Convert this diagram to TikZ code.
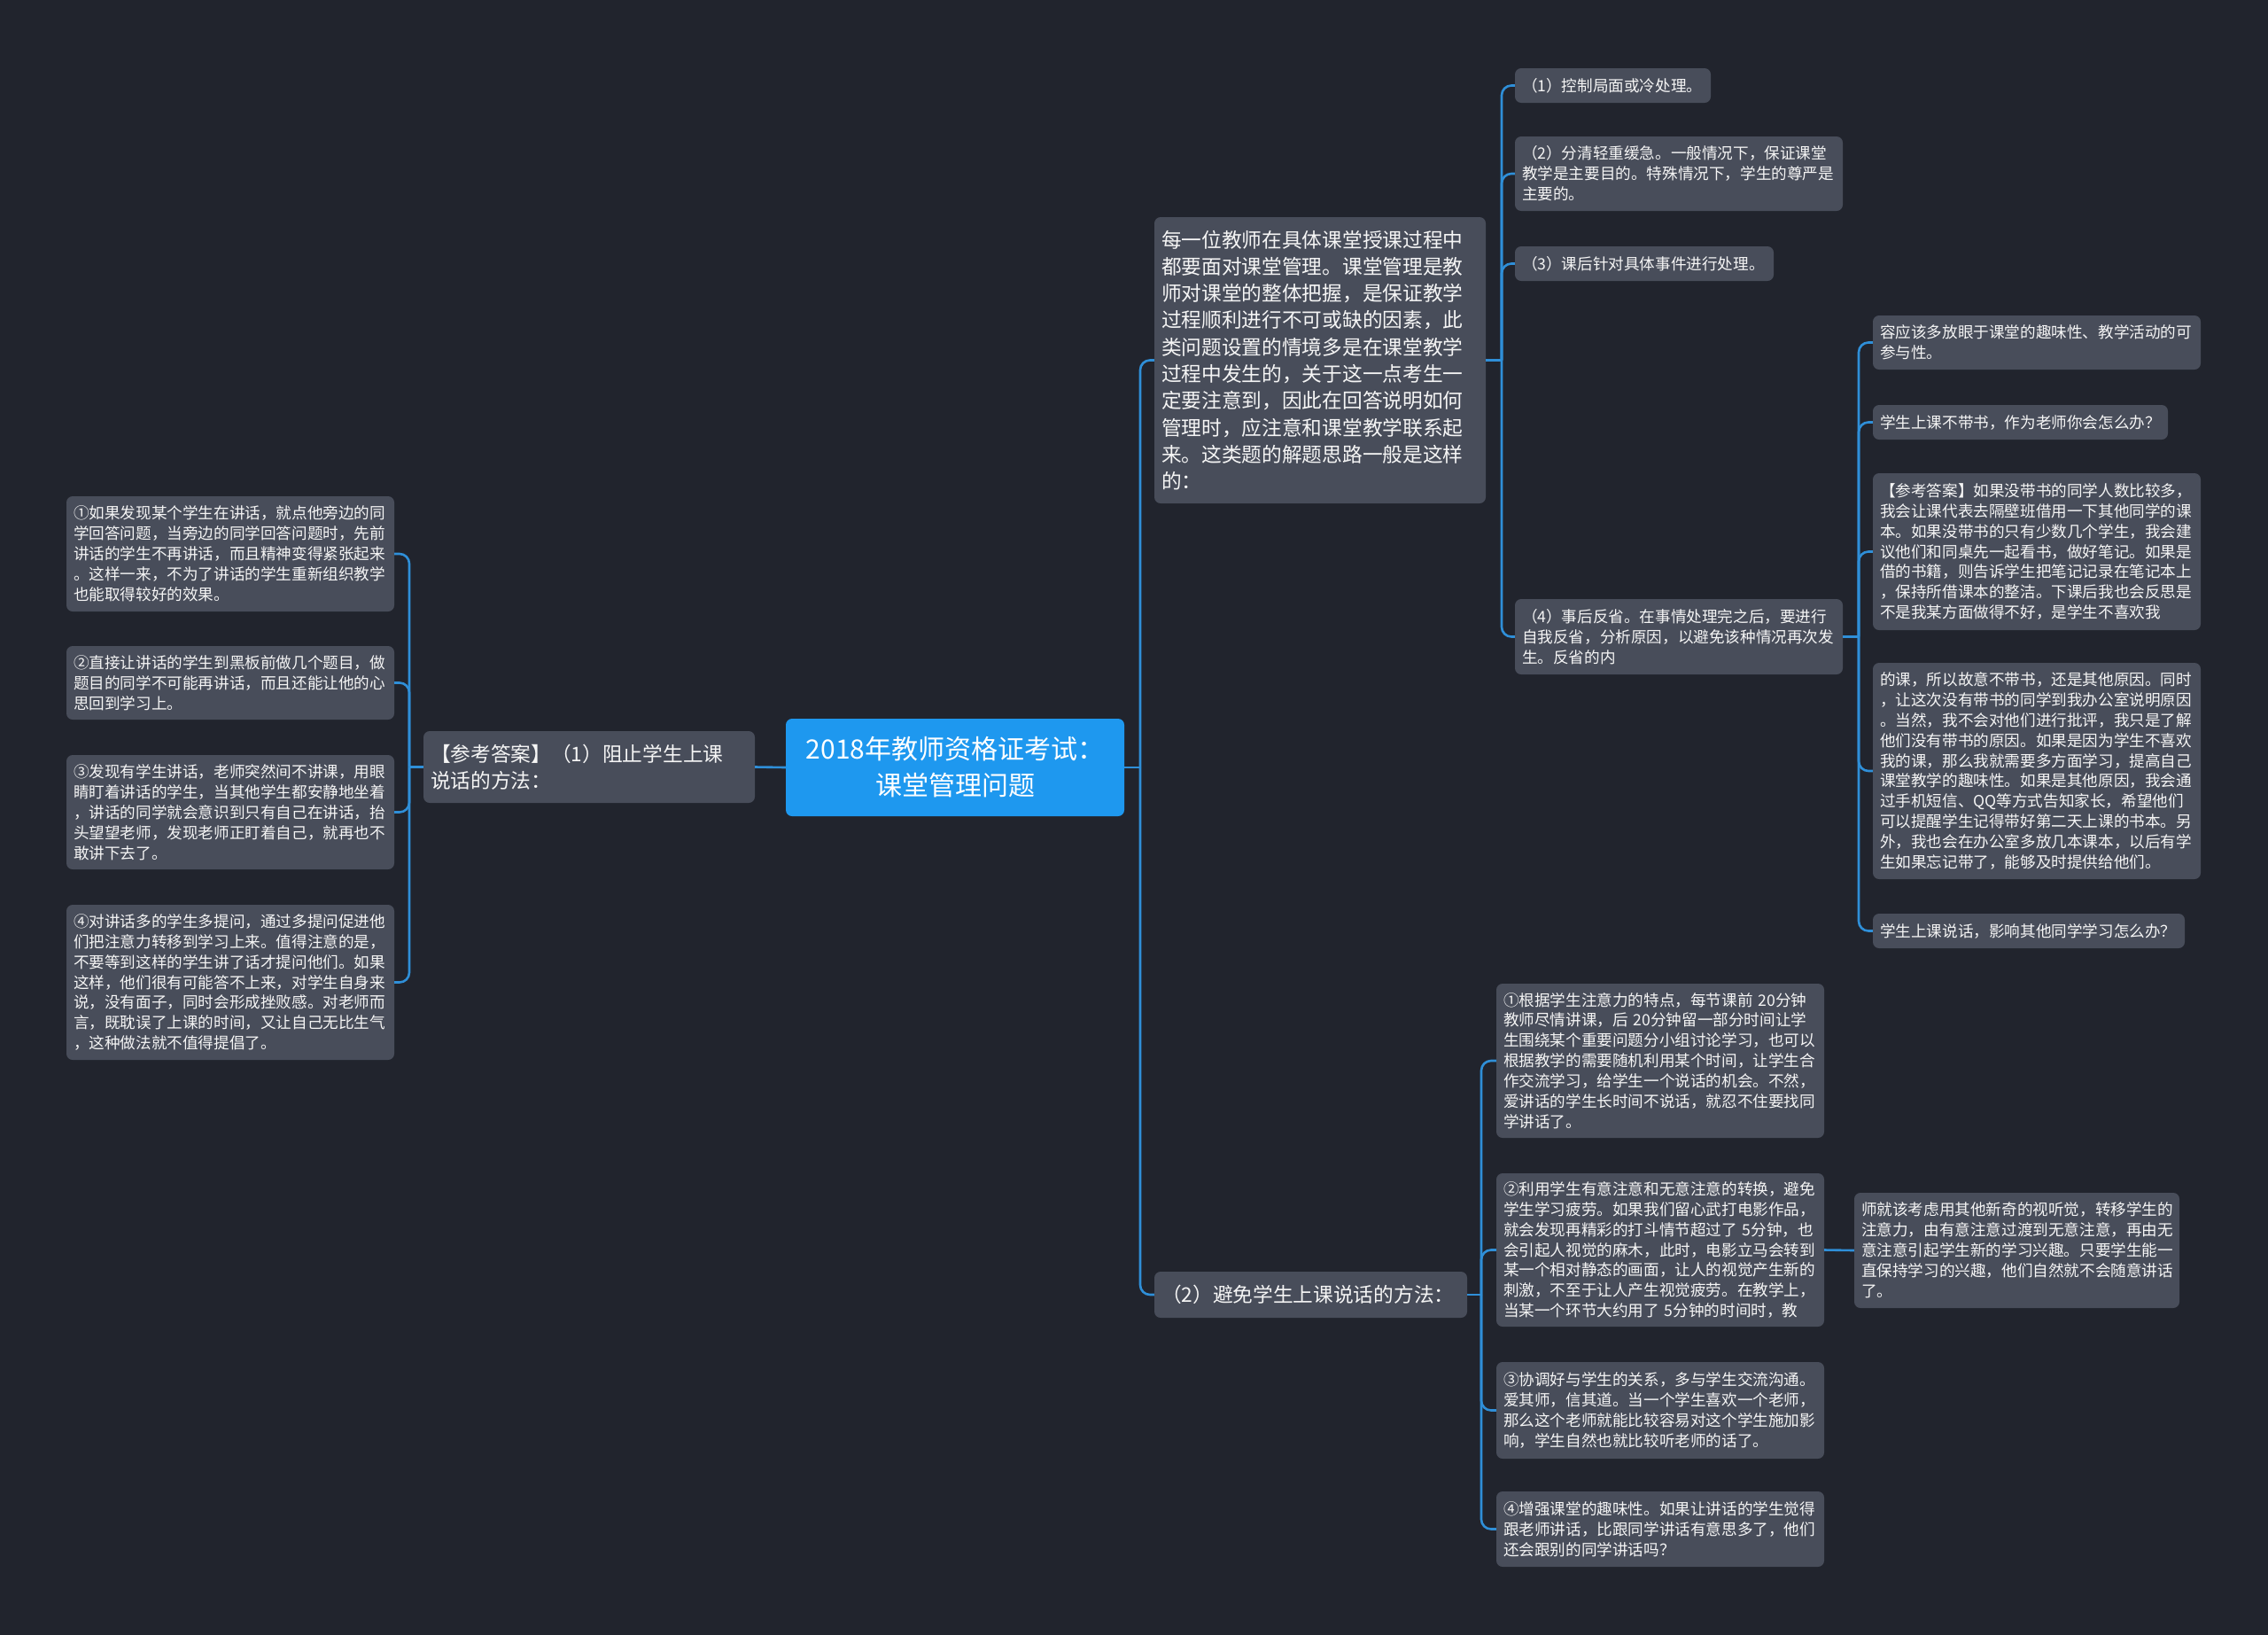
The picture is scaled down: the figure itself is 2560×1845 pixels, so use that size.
\documentclass[tikz,border=0pt]{standalone}
\usepackage{fontspec}
\setmainfont{Noto Sans CJK SC}
\definecolor{bgc}{HTML}{21242D}
\definecolor{nodefill}{HTML}{484D5A}
\definecolor{rootc}{HTML}{1E98EF}
\definecolor{connc}{HTML}{2F8FD8}
\definecolor{textc}{HTML}{F5F5F5}
\tikzset{
  leaf/.style={fill=nodefill, rounded corners=7pt, text=textc, align=left,
    font=\fontsize{17.6pt}{22.9pt}\selectfont, inner xsep=8pt, inner ysep=0pt},
  big/.style={leaf, font=\fontsize{22.7pt}{30.3pt}\selectfont},
  root/.style={fill=rootc, rounded corners=7pt, text=white, align=center,
    font=\fontsize{30pt}{41pt}\selectfont, inner xsep=8pt, inner ysep=0pt},
  conn/.style={draw=connc, line width=2.6pt, rounded corners=11pt}
}
\newcommand{\mmbox}[7]{%
  \pgfmathsetmacro{\mmw}{#4-#2}%
  \pgfmathsetmacro{\mmtw}{#4-#2-16}%
  \pgfmathsetmacro{\mmh}{#5-#3}%
  \pgfmathsetmacro{\mmx}{(#2+#4)/2}%
  \pgfmathsetmacro{\mmy}{(#3+#5)/2}%
  \node[#6, text width=\mmtw pt, minimum width=\mmw pt, minimum height=\mmh pt] (#1) at (\mmx,\mmy) {#7};}
\begin{document}
\begin{tikzpicture}[x=1pt,y=-1pt]
\fill[bgc] (0,0) rectangle (2560,1845);
\useasboundingbox (0,0) rectangle (2560,1845);

% root
\mmbox{root}{887}{811}{1269}{921}{root}{2018年教师资格证考试：\\课堂管理问题}

% left branch
\mmbox{A}{478}{825}{852}{906}{big}{【参考答案】（1）阻止学生上课\\说话的方法：}
\mmbox{L1}{75}{560}{445}{690}{leaf}{①如果发现某个学生在讲话，就点他旁边的同\\学回答问题，当旁边的同学回答问题时，先前\\讲话的学生不再讲话，而且精神变得紧张起来\\。这样一来，不为了讲话的学生重新组织教学\\也能取得较好的效果。}
\mmbox{L2}{75}{729}{445}{812}{leaf}{②直接让讲话的学生到黑板前做几个题目，做\\题目的同学不可能再讲话，而且还能让他的心\\思回到学习上。}
\mmbox{L3}{75}{852}{445}{981}{leaf}{③发现有学生讲话，老师突然间不讲课，用眼\\睛盯着讲话的学生，当其他学生都安静地坐着\\，讲话的同学就会意识到只有自己在讲话，抬\\头望望老师，发现老师正盯着自己，就再也不\\敢讲下去了。}
\mmbox{L4}{75}{1021}{445}{1196}{leaf}{④对讲话多的学生多提问，通过多提问促进他\\们把注意力转移到学习上来。值得注意的是，\\不要等到这样的学生讲了话才提问他们。如果\\这样，他们很有可能答不上来，对学生自身来\\说，没有面子，同时会形成挫败感。对老师而\\言，既耽误了上课的时间，又让自己无比生气\\，这种做法就不值得提倡了。}

% right upper branch
\mmbox{B}{1303}{245}{1677}{568}{big}{每一位教师在具体课堂授课过程中\\都要面对课堂管理。课堂管理是教\\师对课堂的整体把握，是保证教学\\过程顺利进行不可或缺的因素，此\\类问题设置的情境多是在课堂教学\\过程中发生的，关于这一点考生一\\定要注意到，因此在回答说明如何\\管理时，应注意和课堂教学联系起\\来。这类题的解题思路一般是这样\\的：}
\mmbox{R1}{1710}{77}{1931}{116}{leaf}{（1）控制局面或冷处理。}
\mmbox{R2}{1710}{154}{2080}{238}{leaf}{（2）分清轻重缓急。一般情况下，保证课堂\\教学是主要目的。特殊情况下，学生的尊严是\\主要的。}
\mmbox{R3}{1710}{278}{2002}{317}{leaf}{（3）课后针对具体事件进行处理。}
\mmbox{R4}{1710}{676}{2080}{761}{leaf}{（4）事后反省。在事情处理完之后，要进行\\自我反省，分析原因，以避免该种情况再次发\\生。反省的内}
\mmbox{S1}{2114}{356}{2484}{417}{leaf}{容应该多放眼于课堂的趣味性、教学活动的可\\参与性。}
\mmbox{S2}{2114}{457}{2447}{496}{leaf}{学生上课不带书，作为老师你会怎么办？}
\mmbox{S3}{2114}{534}{2484}{711}{leaf}{【参考答案】如果没带书的同学人数比较多，\\我会让课代表去隔壁班借用一下其他同学的课\\本。如果没带书的只有少数几个学生，我会建\\议他们和同桌先一起看书，做好笔记。如果是\\借的书籍，则告诉学生把笔记记录在笔记本上\\，保持所借课本的整洁。下课后我也会反思是\\不是我某方面做得不好，是学生不喜欢我}
\mmbox{S4}{2114}{748}{2484}{992}{leaf}{的课，所以故意不带书，还是其他原因。同时\\，让这次没有带书的同学到我办公室说明原因\\。当然，我不会对他们进行批评，我只是了解\\他们没有带书的原因。如果是因为学生不喜欢\\我的课，那么我就需要多方面学习，提高自己\\课堂教学的趣味性。如果是其他原因，我会通\\过手机短信、QQ等方式告知家长，希望他们\\可以提醒学生记得带好第二天上课的书本。另\\外，我也会在办公室多放几本课本，以后有学\\生如果忘记带了，能够及时提供给他们。}
\mmbox{S5}{2114}{1031}{2466}{1070}{leaf}{学生上课说话，影响其他同学学习怎么办？}

% right lower branch
\mmbox{C}{1303}{1435}{1656}{1487}{big}{（2）避免学生上课说话的方法：}
\mmbox{T1}{1689}{1110}{2059}{1284}{leaf}{①根据学生注意力的特点，每节课前 20分钟\\教师尽情讲课，后 20分钟留一部分时间让学\\生围绕某个重要问题分小组讨论学习，也可以\\根据教学的需要随机利用某个时间，让学生合\\作交流学习，给学生一个说话的机会。不然，\\爱讲话的学生长时间不说话，就忍不住要找同\\学讲话了。}
\mmbox{T2}{1689}{1324}{2059}{1497}{leaf}{②利用学生有意注意和无意注意的转换，避免\\学生学习疲劳。如果我们留心武打电影作品，\\就会发现再精彩的打斗情节超过了 5分钟，也\\会引起人视觉的麻木，此时，电影立马会转到\\某一个相对静态的画面，让人的视觉产生新的\\刺激，不至于让人产生视觉疲劳。在教学上，\\当某一个环节大约用了 5分钟的时间时，教}
\mmbox{T3}{1689}{1537}{2059}{1646}{leaf}{③协调好与学生的关系，多与学生交流沟通。\\爱其师，信其道。当一个学生喜欢一个老师，\\那么这个老师就能比较容易对这个学生施加影\\响，学生自然也就比较听老师的话了。}
\mmbox{T4}{1689}{1683}{2059}{1768}{leaf}{④增强课堂的趣味性。如果让讲话的学生觉得\\跟老师讲话，比跟同学讲话有意思多了，他们\\还会跟别的同学讲话吗？}
\mmbox{U}{2093}{1346}{2460}{1476}{leaf}{师就该考虑用其他新奇的视听觉，转移学生的\\注意力，由有意注意过渡到无意注意，再由无\\意注意引起学生新的学习兴趣。只要学生能一\\直保持学习的兴趣，他们自然就不会随意讲话\\了。}

% junctions
\coordinate (jA) at (462,865.5);
\coordinate (j0) at (1287,866);
\coordinate (jB) at (1695,406.5);
\coordinate (jR) at (2098,718.5);
\coordinate (jC) at (1672,1461);

% connectors
\draw[conn] (root.west) -- (A.east);
\draw[conn] (A.west) -- (jA);
\foreach \c in {L1,L2,L3,L4} \draw[conn] (jA) |- (\c.east);
\draw[conn] (root.east) -- (j0);
\draw[conn] (j0) |- (B.west);
\draw[conn] (j0) |- (C.west);
\draw[conn] (B.east) -- (jB);
\foreach \c in {R1,R2,R3,R4} \draw[conn] (jB) |- (\c.west);
\draw[conn] (R4.east) -- (jR);
\foreach \c in {S1,S2,S3,S4,S5} \draw[conn] (jR) |- (\c.west);
\draw[conn] (C.east) -- (jC);
\foreach \c in {T1,T2,T3,T4} \draw[conn] (jC) |- (\c.west);
\draw[conn] (T2.east) -- (U.west);
\end{tikzpicture}
\end{document}
